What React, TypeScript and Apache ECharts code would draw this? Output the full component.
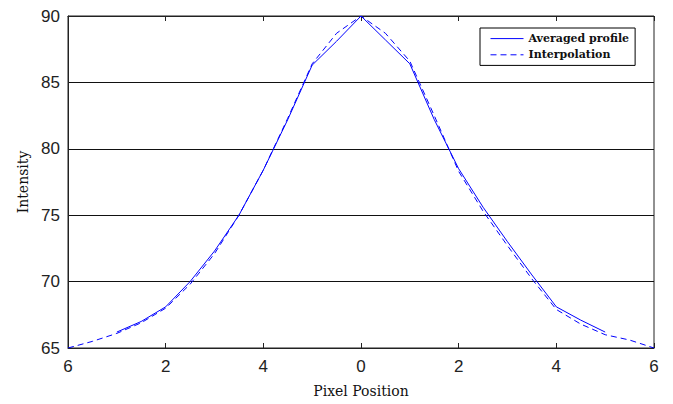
import React, { useEffect, useRef } from "react";
import * as echarts from "echarts";

const xTickLabels = ["6", "2", "4", "0", "2", "4", "6"];
const yTicks = [65, 70, 75, 80, 85, 90];

const profileX = [-5, -4.5, -4, -3.5, -3, -2.5, -2, -1.5, -1, -0.5, 0, 0.5, 1, 1.5, 2, 2.5, 3, 3.5, 4, 4.5, 5];
const profileY = [66.2, 67.0, 68.1, 70.0, 72.3, 75.0, 78.4, 82.2, 86.3, 88.1, 90, 88.2, 86.4, 82.2, 78.5, 75.6, 73.0, 70.5, 68.1, 67.1, 66.2];

const interpX = [-6, -5.5, -5, -4.5, -4, -3.5, -3, -2.5, -2, -1.5, -1, -0.5, 0, 0.5, 1, 1.5, 2, 2.5, 3, 3.5, 4, 4.5, 5, 5.5, 6];
const interpY = [65.0, 65.5, 66.1, 66.9, 68.0, 69.8, 72.1, 75.0, 78.4, 82.3, 86.4, 88.7, 90, 88.7, 86.6, 82.5, 78.3, 75.3, 72.7, 70.2, 67.9, 66.8, 66.0, 65.6, 65.0];

const seriesNames = ["Averaged profile", "Interpolation"];

export default function App() {
  const ref = useRef<HTMLDivElement>(null);
  useEffect(() => {
    if (!ref.current) return;
    const chart = echarts.init(ref.current, undefined, { renderer: "svg" });
    const axisColor = "#222";
    const labelFont = { fontFamily: "Liberation Sans", fontSize: 17, color: "#222" };
    chart.setOption({
      animation: false,
      backgroundColor: "#fff",
      grid: { left: 68, right: 19, top: 16, bottom: 56, show: true, borderColor: axisColor, borderWidth: 1 },
      legend: {
        orient: "vertical",
        left: 480,
        top: 28,
        padding: [5, 6, 5, 10],
        itemWidth: 33,
        itemHeight: 14,
        itemGap: 5,
        borderColor: "#000",
        borderWidth: 1,
        backgroundColor: "#fff",
        itemStyle: { opacity: 0 },
        lineStyle: { width: 1 },
        textStyle: { fontFamily: "DejaVu Serif", fontWeight: "bold", fontSize: 11, color: "#111" },
        data: seriesNames,
      },
      xAxis: [
        {
          type: "value",
          min: -6,
          max: 6,
          interval: 2,
          name: "Pixel Position",
          nameLocation: "middle",
          nameGap: 36,
          nameTextStyle: { fontFamily: "DejaVu Serif", fontSize: 14, color: "#111" },
          axisLine: { show: true, onZero: false, lineStyle: { color: axisColor, width: 1 } },
          axisTick: { show: true, inside: true, length: 5, lineStyle: { color: axisColor } },
          axisLabel: {
            ...labelFont,
            margin: 10,
            formatter: (v: number) => xTickLabels[Math.round((v + 6) / 2)] ?? "",
          },
          splitLine: { show: false },
        },
        {
          type: "value",
          position: "top",
          min: -6,
          max: 6,
          interval: 2,
          axisLine: { show: true, onZero: false, lineStyle: { color: axisColor, width: 1 } },
          axisTick: { show: true, inside: true, length: 5, lineStyle: { color: axisColor } },
          axisLabel: { show: false },
          splitLine: { show: false },
        },
      ],
      yAxis: [
        {
          type: "value",
          min: yTicks[0],
          max: yTicks[yTicks.length - 1],
          interval: 5,
          name: "Intensity",
          nameLocation: "middle",
          nameGap: 36,
          nameTextStyle: { fontFamily: "DejaVu Serif", fontSize: 14, color: "#111" },
          axisLine: { show: true, onZero: false, lineStyle: { color: axisColor, width: 1 } },
          axisTick: { show: false },
          axisLabel: { ...labelFont, margin: 8 },
          splitLine: { show: true, lineStyle: { color: "#111", width: 1 } },
        },
      ],
      series: [
        {
          name: seriesNames[0],
          type: "line",
          symbol: "circle",
          showSymbol: false,
          lineStyle: { color: "#0000ff", width: 1, type: "solid" },
          itemStyle: { color: "#0000ff" },
          data: profileX.map((x, i) => [x, profileY[i]]),
        },
        {
          name: seriesNames[1],
          type: "line",
          symbol: "circle",
          showSymbol: false,
          lineStyle: { color: "#0000ff", width: 1, type: [6, 4] },
          itemStyle: { color: "#0000ff" },
          data: interpX.map((x, i) => [x, interpY[i]]),
        },
      ],
    });
    return () => chart.dispose();
  }, []);
  return (
    <div
      ref={ref}
      style={{ position: "fixed", left: 0, top: 0, width: 673, height: 404, background: "#fff" }}
    />
  );
}
